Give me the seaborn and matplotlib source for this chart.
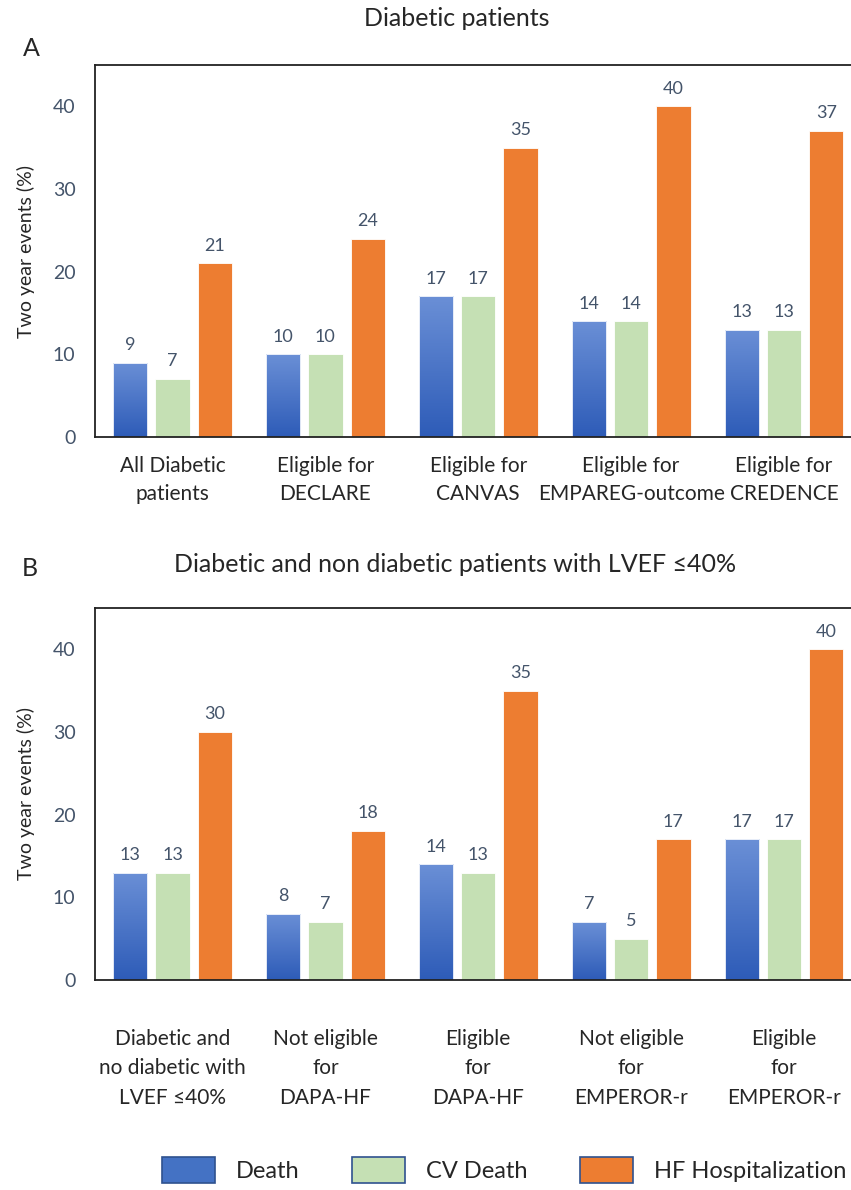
import numpy as np
import pandas as pd
import matplotlib
matplotlib.use("Agg")
import matplotlib.pyplot as plt
from matplotlib.patches import Patch
import seaborn as sns

# data
series = ["Death", "CV Death", "HF Hospitalization"]
groups_a = ["All Diabetic\npatients", "Eligible for\nDECLARE", "Eligible for\nCANVAS",
            "Eligible for\nEMPAREG-outcome", "Eligible for\nCREDENCE"]
death_a = [9, 10, 17, 14, 13]
cvdeath_a = [7, 10, 17, 14, 13]
hfhosp_a = [21, 24, 35, 40, 37]

groups_b = ["Diabetic and\nno diabetic with\nLVEF ≤40%", "Not eligible\nfor\nDAPA-HF",
            "Eligible\nfor\nDAPA-HF", "Not eligible\nfor\nEMPEROR-r", "Eligible\nfor\nEMPEROR-r"]
death_b = [13, 8, 14, 7, 17]
cvdeath_b = [13, 7, 13, 5, 17]
hfhosp_b = [30, 18, 35, 17, 40]

colors = ["#4472C4", "#C5E0B4", "#ED7D31"]
txt_col = "#44546A"

sns.set_theme(style="white")
plt.rcParams["font.family"] = ["Lato", "DejaVu Sans"]


def long_df(groups, d, c, h):
    rows = []
    for g, a, b, e in zip(groups, d, c, h):
        rows += [(g, series[0], a), (g, series[1], b), (g, series[2], e)]
    return pd.DataFrame(rows, columns=["group", "series", "value"])


def draw(ax, df, groups, xpad, lsp):
    sns.barplot(data=df, x="group", y="value", hue="series", order=groups,
                hue_order=series, palette=colors, width=0.83, gap=0.19,
                edgecolor="white", linewidth=0.6, saturation=1, legend=False, ax=ax)
    # gradient for Death bars
    grad = np.linspace(0, 1, 100).reshape(-1, 1)
    cmap = matplotlib.colors.LinearSegmentedColormap.from_list("g", ["#2E5CB8", "#6A8FD6"])
    for bar in ax.containers[0]:
        x0, y0 = bar.get_x(), bar.get_y()
        w, h = bar.get_width(), bar.get_height()
        bar.set_facecolor("none")
        im = ax.imshow(grad, extent=[x0, x0 + w, y0, y0 + h], origin="lower",
                       cmap=cmap, aspect="auto", zorder=bar.get_zorder() - 0.1)
        im.set_clip_path(bar)
    for cont in ax.containers:
        ax.bar_label(cont, padding=7, color=txt_col, fontsize=13)
    ax.set_xlim(-0.507, 4.53)
    ax.set_ylim(0, 45)
    ax.set_yticks([0, 10, 20, 30, 40])
    ax.tick_params(axis="y", labelsize=14, labelcolor=txt_col, pad=14, length=0)
    ax.tick_params(axis="x", labelsize=15, length=0, pad=xpad)
    for lab in ax.get_xticklabels():
        lab.set_linespacing(lsp)
    ax.set_xlabel("")
    ax.set_ylabel("Two year events (%)", fontsize=14, labelpad=13)
    for s in ax.spines.values():
        s.set_color("#222222")
        s.set_linewidth(1.3)


fig = plt.figure(figsize=(8.51, 11.9), dpi=100)
W, H = 851, 1190
ax_a = fig.add_axes([95 / W, 1 - 437 / H, 770 / W, 372 / H])
ax_b = fig.add_axes([95 / W, 1 - 980 / H, 770 / W, 372 / H])

draw(ax_a, long_df(groups_a, death_a, cvdeath_a, hfhosp_a), groups_a, 14, 1.45)
draw(ax_b, long_df(groups_b, death_b, cvdeath_b, hfhosp_b), groups_b, 35, 1.6)

fig.text(457 / W, 1 - 18 / H, "Diabetic patients", ha="center", va="center", fontsize=18)
fig.text(31 / W, 1 - 48 / H, "A", ha="center", va="center", fontsize=18)
fig.text(455 / W, 1 - 565 / H, "Diabetic and non diabetic patients with LVEF ≤40%",
         ha="center", va="center", fontsize=18)
fig.text(30 / W, 1 - 568 / H, "B", ha="center", va="center", fontsize=18)

handles = [Patch(facecolor=c, edgecolor="#2F528F", linewidth=1.2) for c in colors]
fig.legend(handles, series, loc="center left", bbox_to_anchor=(162 / W, 1 - 1170 / H),
           ncol=3, frameon=False, fontsize=17, handlelength=2.25, handleheight=1.3,
           handletextpad=0.9, columnspacing=2.2, borderaxespad=0, borderpad=0)

fig.savefig("out.png", dpi=100)
